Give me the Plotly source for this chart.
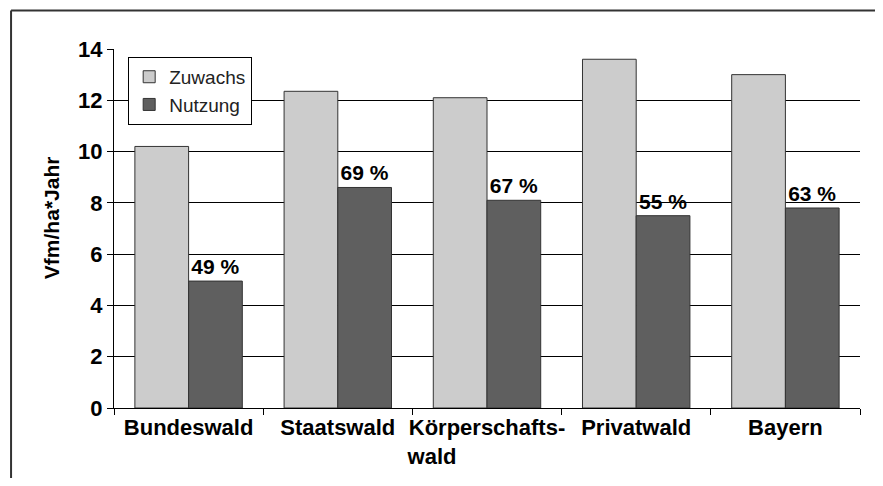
import plotly.graph_objects as go

kategorien = ["Bundeswald", "Staatswald", "Körperschafts-<br>wald" + "\u00a0" * 18, "Privatwald", "Bayern"]
zuwachs = [10.2, 12.35, 12.1, 13.6, 13.0]
nutzung = [4.95, 8.6, 8.1, 7.5, 7.8]
anteil = ["<b>49 %</b>", "<b>69 %</b>", "<b>67 %</b>", "<b>55 %</b>", "<b>63 %</b>"]
y_ticks = [0, 2, 4, 6, 8, 10, 12, 14]

schrift = "Liberation Sans, Arial, sans-serif"

fig = go.Figure()
fig.add_trace(go.Bar(x=kategorien, y=zuwachs, name="Zuwachs",
                     marker=dict(color="#cccccc", line=dict(color="#333333", width=1))))
fig.add_trace(go.Bar(x=kategorien, y=nutzung, name="Nutzung",
                     marker=dict(color="#5f5f5f", line=dict(color="#333333", width=1)),
                     text=anteil, textposition="outside", cliponaxis=False,
                     textfont=dict(family=schrift, size=21, color="black")))

# Rahmen nur links und oben (rechts/unten abgeschnitten im Original)
rahmen = [dict(type="line", xref="paper", yref="paper", x0=-0.138, y0=-0.3, x1=-0.138, y1=1.107,
               line=dict(color="#333333", width=2), layer="below"),
          dict(type="line", xref="paper", yref="paper", x0=-0.138, y0=1.107, x1=1.03, y1=1.107,
               line=dict(color="#333333", width=2), layer="below")]

# die Seite hat 8px Rand, deshalb etwas kleiner (keine Scrollbalken)
fig.update_layout(
    width=867, height=470,
    margin=dict(l=106, r=15, t=41, b=70),
    paper_bgcolor="white", plot_bgcolor="white",
    barmode="group", bargap=0.28, bargroupgap=0,
    font=dict(family=schrift, color="black"),
    showlegend=True,
    legend=dict(x=0.019, y=0.978, xanchor="left", yanchor="top",
                bgcolor="white", bordercolor="black", borderwidth=1,
                font=dict(size=19, color="#222222"), tracegroupgap=0),
    annotations=[dict(text="<b>Vfm/ha*Jahr</b>", x=-0.102, y=0.53, xref="paper", yref="paper",
                      textangle=-90, showarrow=False, font=dict(size=21, color="black"))],
    shapes=rahmen,
)
fig.update_yaxes(range=[0, 14], tickvals=y_ticks, showgrid=True, gridcolor="black", gridwidth=1,
                 showline=True, linecolor="black", linewidth=1, ticks="outside", ticklen=6,
                 tickcolor="black", zeroline=False, automargin=False,
                 tickfont=dict(size=22, family="Liberation Sans, Arial", color="black", weight="bold"))
fig.update_xaxes(showline=True, linecolor="black", linewidth=1, ticks="outside", ticklen=6,
                 tickson="boundaries", tickcolor="black", showgrid=False, tickangle=0,
                 automargin=False,
                 tickfont=dict(size=22, family="Liberation Sans, Arial", color="black", weight="bold"))

fig.write_html("out.html")
